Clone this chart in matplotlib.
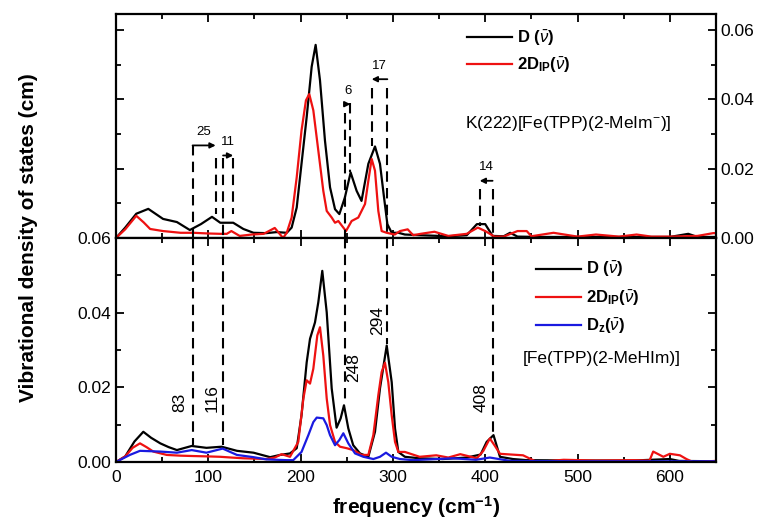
import numpy as np
import matplotlib
matplotlib.use('Agg')
import matplotlib.pyplot as plt
from matplotlib.ticker import MultipleLocator, FormatStrFormatter

plt.rcParams['font.family'] = ['Liberation Sans', 'DejaVu Sans']
plt.rcParams['mathtext.fontset'] = 'custom'
plt.rcParams['mathtext.rm'] = 'Liberation Sans'
plt.rcParams['mathtext.it'] = 'Liberation Sans:italic'
plt.rcParams['mathtext.bf'] = 'Liberation Sans:bold'

# ---- top panel: K(222)[Fe(TPP)(2-MeIm-)] ----
top_f_D = [0, 10, 22, 35, 51, 66, 80, 92, 104, 113,
           127, 138, 149, 163, 174, 185, 190.3, 195.8, 201, 206.6,
           212, 216.3, 221, 226.4, 231.9, 237.3, 242, 248, 254.2, 260.7,
           266, 273.4, 280.6, 286, 290.4, 294, 298.7, 306, 313, 330,
           360, 380, 391, 400, 408, 420, 427, 435, 460, 500,
           550, 600, 620, 630, 650]
top_D = [0, 0.003, 0.0070, 0.0084, 0.0055, 0.0046, 0.0023, 0.0040, 0.0061, 0.0044,
         0.0044, 0.0026, 0.0015, 0.0014, 0.0017, 0.0015, 0.003, 0.0088, 0.0214, 0.0349,
         0.0494, 0.0557, 0.0455, 0.0281, 0.0146, 0.0083, 0.0069, 0.0117, 0.0189, 0.0136,
         0.0107, 0.0214, 0.0264, 0.0214, 0.0117, 0.004, 0.0015, 0.0015, 0.001, 0.0008,
         0.0005, 0.0008, 0.004, 0.004, 0.0006, 0.0005, 0.0015, 0.0004, 0.0003, 0.0003,
         0.0003, 0.0003, 0.0012, 0.0003, 0.0003]

top_f_IP = [0, 10, 22, 30, 37, 51, 70, 84, 100, 113,
            120, 125, 134, 147, 160, 172, 181, 185, 190.3,
            195.8, 201, 205.8, 209.4, 213.8, 219.2, 224.6, 228.3, 233.7, 237.3,
            240.9, 246.3, 249.2, 255.3, 262.5, 269.8, 273.4, 277, 280.6, 284.2,
            287.8, 293.3, 302, 307.7, 316, 322, 330, 345, 360, 380,
            392, 400, 410, 420, 435, 445, 450, 474, 500, 520,
            545, 564, 580, 600, 630, 647, 650]
top_IP = [0, 0.0025, 0.0064, 0.0045, 0.0026, 0.0020, 0.0015, 0.0015, 0.0013, 0.0012,
          0.0012, 0.0020, 0.0006, 0.0010, 0.0012, 0.0029, 0.0, 0.0015, 0.0059,
          0.0175, 0.031, 0.0397, 0.0415, 0.0368, 0.0252, 0.0136, 0.0078, 0.0059, 0.0044,
          0.0049, 0.003, 0.002, 0.0049, 0.0059, 0.0098, 0.0165, 0.0228, 0.0194, 0.0078,
          0.002, 0.0015, 0.001, 0.002, 0.0025, 0.0008, 0.0012, 0.0018, 0.0006, 0.0012,
          0.003, 0.002, 0.0004, 0.0004, 0.0020, 0.0020, 0.0005, 0.0015, 0.0004, 0.0010,
          0.0004, 0.0010, 0.0004, 0.0004, 0.0006, 0.0014, 0.0014]

# ---- bottom panel: [Fe(TPP)(2-MeHIm)] ----
bot_f_D = [0, 10, 20, 29.6, 38, 48, 57, 66, 82, 98,
           114.5, 131, 149, 167, 177.7, 188.5, 195.8, 201, 206.6, 210.2,
           215.6, 219.2, 223.5, 228.3, 233.7, 239, 243.4, 247, 251.7, 257,
           264.4, 273.4, 280.6, 286, 293.3, 298.7, 302.3, 305.9, 313, 329,
           354, 380, 395, 401.6, 409, 416, 430, 445, 500, 560,
           600, 610, 650]
bot_D = [0, 0.0015, 0.0055, 0.0081, 0.0065, 0.0050, 0.0040, 0.0032, 0.0043, 0.0038,
         0.0041, 0.0030, 0.0025, 0.0013, 0.0019, 0.0023, 0.0037, 0.0125, 0.0267, 0.033,
         0.0374, 0.0428, 0.0512, 0.0401, 0.0197, 0.0092, 0.0117, 0.0152, 0.009, 0.0045,
         0.0023, 0.0014, 0.0081, 0.0197, 0.0312, 0.0214, 0.009, 0.0027, 0.0014, 0.001,
         0.0008, 0.0012, 0.002, 0.0054, 0.0072, 0.0014, 0.0008, 0.0005, 0.0004, 0.0004,
         0.0008, 0.0003, 0.0002]

bot_f_IP = [0, 10, 18, 26, 33, 40.4, 55, 70, 84, 100,
            113, 125, 138, 163, 172, 179.5, 188.5, 197.5, 203, 206.6,
            210.2, 213.8, 218.1, 221, 224.6, 228.3, 231.9, 237.3, 242.7, 250,
            257, 266, 273.4, 278.8, 284.2, 287.8, 291.4, 295, 298.7, 302.3,
            305.9, 313, 329, 347, 360, 373, 391, 398, 405, 410,
            416, 441, 456, 485, 520, 560, 578, 582, 593, 600,
            611, 618, 625, 650]
bot_IP = [0, 0.0015, 0.0038, 0.0050, 0.0040, 0.0028, 0.0019, 0.0017, 0.0016, 0.0015,
          0.0014, 0.0012, 0.0010, 0.0008, 0.0012, 0.0021, 0.0014, 0.0054, 0.017, 0.0219,
          0.021, 0.025, 0.0339, 0.0361, 0.0285, 0.017, 0.0099, 0.0054, 0.0041, 0.0037,
          0.0032, 0.0019, 0.0019, 0.0072, 0.0179, 0.0241, 0.0266, 0.0214, 0.0125, 0.0054,
          0.0027, 0.0027, 0.0014, 0.0018, 0.0012, 0.0021, 0.001, 0.003, 0.0063, 0.0045,
          0.0022, 0.0018, 0.0, 0.0006, 0.0004, 0.0005, 0.0004, 0.0028, 0.0014, 0.0022,
          0.0018, 0.0008, 0.0, 0.0003]

bot_f_Z = [0, 15, 26, 48, 66, 82, 98, 115.6, 131, 149,
           163, 185, 192, 201, 208.4, 213.8, 217.5, 224.6, 228.3, 231.9,
           237.3, 242, 246.3, 251.7, 259, 268, 278.8, 286, 292.5, 298.7,
           307.7, 322, 365, 390, 405, 427, 500, 650]
bot_Z = [0, 0.0019, 0.0030, 0.0028, 0.0025, 0.0032, 0.0025, 0.0036, 0.0019, 0.0013,
         0.0007, 0.0005, 0.0005, 0.0027, 0.0072, 0.0107, 0.0119, 0.0117, 0.0099, 0.0072,
         0.0045, 0.0059, 0.0077, 0.005, 0.0023, 0.0014, 0.0008, 0.0014, 0.0025, 0.0014,
         0.0008, 0.0005, 0.001, 0.0006, 0.0012, 0.0003, 0.0002, 0.0002]

# marked modes in the bottom spectrum and their shifted partners in the top one
modes = [83, 116, 248, 294, 408]
shifted = [108, 127, 254, 277, 394]
shifts = ['25', '11', '6', '17', '14']

fig = plt.figure(figsize=(7.8, 5.31), dpi=100)
ax1 = fig.add_axes([0.1487, 0.5518, 0.7692, 0.4218])
ax2 = fig.add_axes([0.1487, 0.1299, 0.7692, 0.4219])

lw = 1.6
ax1.plot(top_f_D, top_D, color='black', lw=lw, label=r'$\mathbf{D\ (}\bar{\nu}\mathbf{)}$')
ax1.plot(top_f_IP, top_IP, color='#ee1111', lw=lw,
         label=r'$\mathbf{2D_{IP}(}\bar{\nu}\mathbf{)}$')
ax2.plot(bot_f_D, bot_D, color='black', lw=lw, label=r'$\mathbf{D\ (}\bar{\nu}\mathbf{)}$')
ax2.plot(bot_f_IP, bot_IP, color='#ee1111', lw=lw,
         label=r'$\mathbf{2D_{IP}(}\bar{\nu}\mathbf{)}$')
ax2.plot(bot_f_Z, bot_Z, color='#1a1ae0', lw=lw, label=r'$\mathbf{D_{z}(}\bar{\nu}\mathbf{)}$')

ax1.set_xlim(0, 650)
ax1.set_ylim(0, 0.0646)
ax2.set_xlim(0, 650)
ax2.set_ylim(0, 0.06)

for ax in (ax1, ax2):
    ax.xaxis.set_major_locator(MultipleLocator(100))
    ax.xaxis.set_minor_locator(MultipleLocator(50))
    ax.yaxis.set_major_locator(MultipleLocator(0.02))
    ax.yaxis.set_minor_locator(MultipleLocator(0.01))
    ax.yaxis.set_major_formatter(FormatStrFormatter('%.2f'))
    ax.tick_params(which='both', direction='in', top=True, right=True, width=1.3,
                   labelsize=12.5)
    ax.tick_params(which='major', length=6)
    ax.tick_params(which='minor', length=3.5)
    for s in ax.spines.values():
        s.set_linewidth(1.6)

ax1.tick_params(labelbottom=False, labelleft=False, labelright=True)
ax2.tick_params(axis='x', pad=6)

# dashed guide lines
dash = dict(color='black', lw=1.5, ls=(0, (5, 3)))
top_start = [0.0267, 0.0232, 0.036, 0.0432, 0.0142]
bot_end = [0.0045, 0.0045, 0.0157, 0.0317, 0.0072]
sh_start = [0.0232, 0.0232, 0.0389, 0.0432, 0.0142]
sh_end = [0.0070, 0.0070, 0.0189, 0.0264, 0.0035]
for m, ys, ye in zip(modes, top_start, bot_end):
    ax1.plot([m, m], [ys, 0], **dash)
    ax2.plot([m, m], [0.06, ye], **dash)
for s, ys, ye in zip(shifted, sh_start, sh_end):
    ax1.plot([s, s], [ys, ye], **dash)

# shift arrows
arrow_y = [0.0267, 0.0238, 0.0386, 0.0458, 0.0165]
for m, s, txt, ay in zip(modes, shifted, shifts, arrow_y):
    ax1.annotate('', xy=(s, ay), xytext=(m, ay),
                 arrowprops=dict(arrowstyle='-|>', color='black', lw=1.3,
                                 mutation_scale=8, shrinkA=0, shrinkB=0))
    ax1.text((m + s) / 2, ay + 0.0022, txt, fontsize=9.5, ha='center', va='bottom')

# mode labels in the bottom panel
lab_x = [69, 104, 257, 283, 395.5]
lab_y = [0.016, 0.017, 0.0253, 0.038, 0.0173]
for m, lx, ly in zip(modes, lab_x, lab_y):
    ax2.text(lx, ly, str(m), rotation=90, fontsize=12.5, ha='center', va='center')

ax1.text(0.582, 0.513, r'K(222)[Fe(TPP)(2-MeIm$^{-}$)]', transform=ax1.transAxes,
         fontsize=12.5, ha='left', va='center')
ax2.text(0.678, 0.464, '[Fe(TPP)(2-MeHIm)]', transform=ax2.transAxes,
         fontsize=12.5, ha='left', va='center')

ax1.legend(loc='upper left', bbox_to_anchor=(0.56, 1.0), frameon=False, fontsize=12,
           handlelength=2.7, handletextpad=0.3, labelspacing=0.45)
ax2.legend(loc='upper left', bbox_to_anchor=(0.675, 0.968), frameon=False, fontsize=12,
           handlelength=2.7, handletextpad=0.3, labelspacing=0.55)

ax2.set_xlabel(r'frequency (cm$^{\mathbf{-1}}$)', fontsize=15, fontweight='bold', labelpad=6)
fig.text(0.036, 0.552, 'Vibrational density of states (cm)', rotation=90, fontsize=15,
         fontweight='bold', ha='center', va='center')

fig.savefig('out.png', dpi=100)
